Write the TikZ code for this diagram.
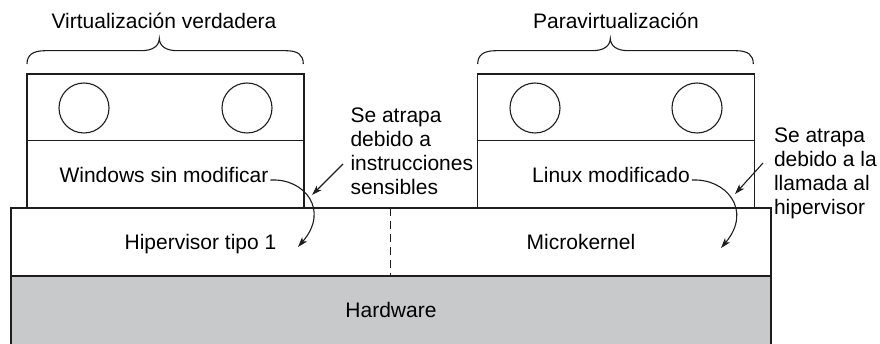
\documentclass[tikz,border=0pt]{standalone}
\usepackage{fontspec}
\setmainfont{Liberation Sans}
\usetikzlibrary{arrows.meta}
\definecolor{ink}{RGB}{30,28,29}
\definecolor{hwgray}{RGB}{200,201,203}
\begin{document}
\begin{tikzpicture}[x=1pt,y=-1pt,
  every node/.style={font=\fontsize{21}{24}\selectfont, text=black, inner sep=0pt, outer sep=0pt},
  box/.style={draw=ink, line width=1.4pt, minimum width=0pt, minimum height=0pt},
  disc/.style={draw=ink, line width=1.1pt, circle, minimum size=50pt},
  lbl/.style={anchor=base},
  note/.style={anchor=base west},
  arr/.style={draw=ink, line width=1.1pt, -{Stealth[length=10pt,width=6.5pt,inset=2.5pt]}},
  bracestyle/.style={draw=ink, line width=1.1pt}]
\useasboundingbox (0,0) rectangle (880,344);
\begin{scope}
\clip (0,0) rectangle (880,344);
% hardware and hypervisor
\node[box, fill=hwgray, anchor=north west, minimum width=760pt, minimum height=84pt] (hw) at (11,276) {};
\node[box, fill=white, anchor=north west, minimum width=760pt, minimum height=68pt] (hyp) at (11,208) {};
\coordinate (dtop) at (390.7,208);
\coordinate (dbot) at (390.7,276);
\draw[ink, line width=1.1pt, dash pattern=on 8pt off 5pt] (dtop) -- (dbot);
% left VM
\node[box, fill=white, anchor=north west, minimum width=277pt, minimum height=66.7pt] (vmLtop) at (27,74) {};
\node[box, fill=white, anchor=north west, minimum width=277pt, minimum height=67.3pt] (vmLbot) at (27,140.7) {};
\node[disc] (cL1) at (84,108) {};
\node[disc] (cL2) at (247,108) {};
% right VM
\node[box, fill=white, anchor=north west, minimum width=276.6pt, minimum height=66.7pt] (vmRtop) at (477.7,74) {};
\node[box, fill=white, anchor=north west, minimum width=276.6pt, minimum height=67.3pt] (vmRbot) at (477.7,140.7) {};
\node[disc] (cR1) at (535,108) {};
\node[disc] (cR2) at (697,108) {};
\end{scope}
% braces
\draw[bracestyle] (27,64) .. controls (27,55) and (33,50.7) .. (45,50.7) -- (141,50.7)
  .. controls (153,50.7) and (159,46) .. (159.3,38.5)
  .. controls (159.6,46) and (165.6,50.7) .. (177.6,50.7) -- (286,50.7)
  .. controls (298,50.7) and (303.3,55) .. (303.3,64);
\draw[bracestyle] (477.7,64) .. controls (477.7,55) and (483.7,50.7) .. (495.7,50.7) -- (592,50.7)
  .. controls (604,50.7) and (610,46) .. (610.3,38.5)
  .. controls (610.6,46) and (616.6,50.7) .. (628.6,50.7) -- (736,50.7)
  .. controls (748,50.7) and (753.3,55) .. (753.3,64);
% labels
\node[lbl] (tL) at (164,29) {Virtualización verdadera};
\node[lbl] (tR) at (616,29) {Paravirtualización};
\node[lbl] (win) at (164,182.7) {Windows sin modificar};
\node[lbl] (lin) at (611,182.7) {Linux modificado};
\node[lbl] (hypL) at (200.5,250) {Hipervisor tipo 1};
\node[lbl] (hypR) at (581,250) {Microkernel};
\node[lbl] (hwt) at (391,318) {Hardware};
\node[note] (noteL) at (350.5,123) {\begin{tabular}[t]{@{}l@{}}Se atrapa\\debido a\\instrucciones\\sensibles\end{tabular}};
\node[note] (noteR) at (774,143) {\begin{tabular}[t]{@{}l@{}}Se atrapa\\debido a la\\llamada al\\hipervisor\end{tabular}};
% arrows
\coordinate (aLs) at (343,164);
\coordinate (aLe) at (312,195);
\coordinate (cLe) at (298,247);
\draw[arr] (aLs) -- (aLe);
\draw[arr] ([xshift=2pt]win.mid east) .. controls +(34,-2) and (330,210) .. (cLe);
\coordinate (aRs) at (763,163);
\coordinate (aRe) at (735,194);
\coordinate (cRe) at (721,248);
\draw[arr] (aRs) -- (aRe);
\draw[arr] ([xshift=2pt]lin.mid east) .. controls +(34,-2) and (753,210) .. (cRe);
\end{tikzpicture}
\end{document}
